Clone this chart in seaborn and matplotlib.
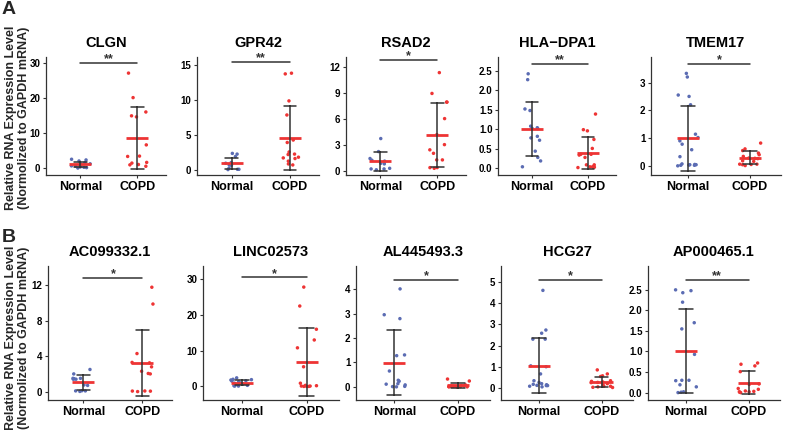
#!/usr/bin/env python3
# -*- coding: utf-8 -*-
"""
plot.py

Purpose:
    qPCR validation of candidate genes, Normal vs COPD (dot + mean/SD)
"""
###########################################################
### Imports
import numpy as np
import pandas as pd
import seaborn as sns
import matplotlib.pyplot as plt

###########################################################
### Data (relative expression)
groups = ['Normal', 'COPD']

# row A
clgn_normal = [2.5, 2.3, 2.0, 1.5, 1.2, 1.0, 0.8, 0.6, 0.5, 0.3, 0.2, 0.1, 0.0]
clgn_copd = [27.1, 20.1, 16.0, 14.9, 14.6, 6.6, 3.3, 3.4, 1.6, 1.4, 1.0, 0.5, 0.9]
gpr42_normal = [2.4, 2.3, 1.95, 1.1, 1.0, 0.9, 0.76, 0.7, 0.3, 0.14, 0.14, 0.1]
gpr42_copd = [13.8, 13.7, 9.86, 7.86, 4.3, 3.95, 2.6, 2.3, 2.24, 1.86, 1.76, 1.67,
              1.3, 0.9, 0.76]
rsad2_normal = [3.7, 2.2, 1.4, 1.2, 1.1, 0.85, 0.78, 0.27, 0.2, 0.2, 0.1]
rsad2_copd = [11.3, 8.9, 7.9, 7.9, 6.0, 4.15, 3.0, 2.4, 2.0, 1.24, 1.24, 0.35, 0.35, 0.27]
hla_normal = [2.42, 2.27, 1.52, 1.48, 1.08, 1.04, 1.02, 1.02, 0.78, 0.82, 0.72, 0.44,
              0.28, 0.19, 0.04]
hla_copd = [1.39, 0.99, 0.96, 0.74, 0.51, 0.36, 0.36, 0.34, 0.28, 0.09, 0.09, 0.04,
            0.04, 0.03, 0.03, 0.02]
tmem17_normal = [3.33, 3.2, 2.55, 2.5, 2.2, 1.14, 1.02, 0.9, 0.78, 0.58, 0.33, 0.07,
                 0.04, 0.02, 0.02, 0.04, 0.0, 0.03, 0.05]
tmem17_copd = [0.82, 0.61, 0.55, 0.46, 0.40, 0.34, 0.28, 0.27, 0.26, 0.18, 0.16, 0.06,
               0.05, 0.04, 0.06, 0.01]

# row B
ac_normal = [2.5, 2.0, 1.5, 1.5, 1.45, 1.4, 1.4, 0.75, 0.7, 0.1, 0.08, 0.02, 0.08]
ac_copd = [11.8, 9.9, 4.3, 3.3, 3.25, 2.8, 2.3, 2.05, 2.0, 0.07, 0.05, 0.06, 0.0]
linc_normal = [2.4, 2.0, 1.9, 1.8, 1.6, 1.5, 1.3, 1.0, 0.9, 0.8, 0.6, 0.5, 0.3, 0.2,
               0.1, 0.1]
linc_copd = [27.8, 22.5, 16.0, 13.0, 10.8, 5.5, 0.9, 0.3, 0.1, 0.0, 0.2, 0.0, 0.1, 0.0]
al_normal = [4.02, 2.96, 2.8, 1.31, 1.28, 0.65, 0.27, 0.23, 0.13, 0.11, 0.08, 0.02,
             0.01, 0.0]
al_copd = [0.32, 0.24, 0.08, 0.05, 0.04, 0.03, 0.02, 0.02, 0.01, 0.01, 0.0, 0.0, 0.0, 0.0]
hcg27_normal = [4.6, 2.73, 2.58, 2.3, 2.3, 1.04, 1.0, 0.66, 0.34, 0.26, 0.2, 0.17,
                0.15, 0.12, 0.11, 0.11, 0.08, 0.05]
hcg27_copd = [0.85, 0.66, 0.57, 0.54, 0.34, 0.31, 0.28, 0.26, 0.25, 0.2, 0.14, 0.08,
              0.08, 0.05, 0.02, 0.03]
ap_normal = [2.5, 2.48, 2.43, 2.2, 1.7, 1.55, 0.93, 0.3, 0.3, 0.29, 0.19, 0.14, 0.02,
             0.0, 0.01]
ap_copd = [0.72, 0.69, 0.65, 0.51, 0.21, 0.2, 0.1, 0.08, 0.04, 0.03, 0.02, 0.02, 0.01, 0.0]

gene_names = ['CLGN', 'GPR42', 'RSAD2', 'HLA\u2212DPA1', 'TMEM17',
              'AC099332.1', 'LINC02573', 'AL445493.3', 'HCG27', 'AP000465.1']
normal_values = [clgn_normal, gpr42_normal, rsad2_normal, hla_normal, tmem17_normal,
                 ac_normal, linc_normal, al_normal, hcg27_normal, ap_normal]
copd_values = [clgn_copd, gpr42_copd, rsad2_copd, hla_copd, tmem17_copd,
               ac_copd, linc_copd, al_copd, hcg27_copd, ap_copd]
stars = ['**', '**', '*', '**', '*', '*', '*', '*', '*', '**']
y_ticks = [[0, 10, 20, 30], [0, 5, 10, 15], [0, 3, 6, 9, 12],
           [0, 0.5, 1.0, 1.5, 2.0, 2.5], [0, 1, 2, 3],
           [0, 4, 8, 12], [0, 10, 20, 30], [0, 1, 2, 3, 4], [0, 1, 2, 3, 4, 5],
           [0, 0.5, 1.0, 1.5, 2.0, 2.5]]
y_limits = [(-2.0, 31.7), (-0.67, 16.1), (-0.5, 13.1), (-0.17, 2.85), (-0.33, 3.92),
            (-0.95, 14.2), (-3.8, 33.7), (-0.54, 4.96), (-0.57, 5.75), (-0.18, 3.08)]
sig_heights = [30.0, 15.4, 12.75, 2.68, 3.67, 12.84, 30.5, 4.38, 5.1, 2.75]

# layout, in pixels of the 786x430 figure: (left, width)
row_a_x = [(46, 120), (197, 122), (346, 120), (498, 118), (651, 130)]
row_b_x = [(48, 124), (203, 136), (356, 134), (501, 132), (648, 132)]

BLUE = '#5b6cb3'
RED = '#ee3434'
DARK = '#333333'
W, H = 786, 430


def draw_panel(ax, gene, normal, copd, ticks, ylim, sig_y, star):
    df = pd.DataFrame({'group': ['Normal'] * len(normal) + ['COPD'] * len(copd),
                       'value': list(normal) + list(copd)})
    sns.stripplot(data=df, x='group', y='value', hue='group', order=groups,
                  palette={'Normal': BLUE, 'COPD': RED}, jitter=0.18, size=2.5,
                  linewidth=0, legend=False, ax=ax, zorder=1)
    sns.pointplot(data=df, x='group', y='value', order=groups, errorbar='sd',
                  color=RED, markers='_', markersize=16, markeredgewidth=2.0,
                  linestyle='none', capsize=0.22,
                  err_kws={'color': DARK, 'linewidth': 1.1}, ax=ax, zorder=4)
    ax.plot([0, 1], [sig_y, sig_y], color=DARK, lw=1.1)
    ax.annotate(star, xy=(0.5, sig_y), xytext=(0, 0.5), textcoords='offset points',
                ha='center', va='baseline', fontsize=9, fontweight='bold',
                color=DARK)
    ax.set_xlim(-0.6, 1.5)
    ax.set_ylim(*ylim)
    ax.set_yticks(ticks)
    ax.set_yticklabels([f'{t:g}' if all(float(v).is_integer() for v in ticks)
                        else f'{t:.1f}' for t in ticks])
    ax.set_xlabel('')
    ax.set_ylabel('')
    ax.set_title(gene, fontsize=10.5, fontweight='bold', pad=7, color='black')
    for side in ['top', 'right']:
        ax.spines[side].set_visible(False)
    for side in ['left', 'bottom']:
        ax.spines[side].set_color(DARK)
        ax.spines[side].set_linewidth(0.9)
    ax.tick_params(axis='y', labelsize=7, length=2.5, width=0.8, colors=DARK,
                   labelcolor='black', pad=1.5)
    ax.tick_params(axis='x', labelsize=9, length=2.5, width=0.8, colors=DARK,
                   labelcolor='black', pad=1.5)
    for lab in ax.get_xticklabels() + ax.get_yticklabels():
        lab.set_fontweight('bold')


###########################################################
### main
def main():
    np.random.seed(7)
    sns.set_style('ticks')
    plt.rcParams['font.family'] = ['Liberation Sans', 'DejaVu Sans']

    fig = plt.figure(figsize=(7.86, 4.30), dpi=100)

    rows = [(row_a_x, 175, 118), (row_b_x, 400, 134)]
    k = 0
    for xs, bottom, height in rows:
        for left, width in xs:
            ax = fig.add_axes([left / W, 1 - bottom / H, width / W, height / H])
            draw_panel(ax, gene_names[k], normal_values[k], copd_values[k],
                       y_ticks[k], y_limits[k], sig_heights[k], stars[k])
            k += 1

    ylab = 'Relative RNA Expression Level\n(Normolized to GAPDH mRNA)'
    fig.text(0.022, 1 - 118 / H, ylab, rotation=90, ha='center', va='center',
             fontsize=9, fontweight='bold', linespacing=1.05)
    fig.text(0.022, 1 - 338 / H, ylab, rotation=90, ha='center', va='center',
             fontsize=9, fontweight='bold', linespacing=1.05)
    fig.text(0.002, 1 - 1 / H, 'A', ha='left', va='top', fontsize=14, fontweight='bold')
    fig.text(0.002, 1 - 229 / H, 'B', ha='left', va='top', fontsize=14, fontweight='bold')

    fig.savefig('out.png', dpi=100)


###########################################################
### start main
if __name__ == "__main__":
    main()
